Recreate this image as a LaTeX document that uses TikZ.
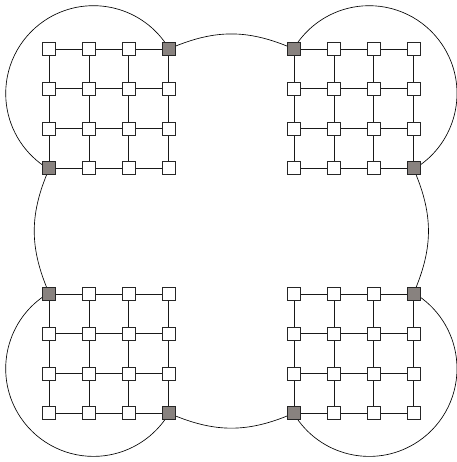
\documentclass[tikz,border=0pt]{standalone}
\usetikzlibrary{backgrounds,calc}
\definecolor{sqgray}{RGB}{136,130,127}
\begin{document}
\begin{tikzpicture}[x=1pt,y=1pt,
  sq/.style={draw=black!85, fill=white, minimum size=13pt, inner sep=0pt, line width=0.7pt},
  link/.style={line width=0.7pt, draw=black!90},
  ring/.style={line width=0.65pt, draw=black},
  c130/.style={fill=sqgray}, c103/.style={fill=sqgray},
  c200/.style={fill=sqgray}, c233/.style={fill=sqgray},
  c300/.style={fill=sqgray}, c333/.style={fill=sqgray},
  c430/.style={fill=sqgray}, c403/.style={fill=sqgray}]
\useasboundingbox (0,0) rectangle (456,462);
% grids
\foreach \k/\ox/\oy in {1/49.3/413, 2/294.3/413, 3/49.3/168, 4/294.3/168}{
  \foreach \i in {0,...,3}{
    \foreach \j in {0,...,3}{
      \node[sq, c\k\i\j/.try] (g\k-\i-\j) at ({\ox+39.7*\i},{\oy-39.7*\j}) {};
    }
  }
}
\coordinate (cTL) at (93.5,368.5);
\coordinate (cTR) at (369.2,368.5);
\coordinate (cBL) at (93.5,93.4);
\coordinate (cBR) at (369.2,93.4);
\begin{scope}[on background layer]
  \foreach \k in {1,...,4}{
    \foreach \i in {0,...,3}{
      \foreach \j [evaluate=\j as \jn using int(\j+1)] in {0,1,2}{
        \draw[link] (g\k-\i-\j) -- (g\k-\i-\jn);
        \draw[link] (g\k-\j-\i) -- (g\k-\jn-\i);
      }
    }
  }
  % corner circles
  \draw[ring] ($(cTL)+(34:87.8)$) arc[start angle=34, end angle=236, radius=87.8];
  \draw[ring] ($(cTR)+(-56:87.8)$) arc[start angle=-56, end angle=146, radius=87.8];
  \draw[ring] ($(cBL)+(124:87.8)$) arc[start angle=124, end angle=326, radius=87.8];
  \draw[ring] ($(cBR)+(214:87.8)$) arc[start angle=214, end angle=416, radius=87.8];
  % middle arcs
  \draw[ring] (g1-3-0) to[bend left=22] (g2-0-0);
  \draw[ring] (g3-0-0) to[bend left=22] (g1-0-3);
  \draw[ring] (g4-0-3) to[bend left=22] (g3-3-3);
  \draw[ring] (g2-3-3) to[bend left=22] (g4-3-0);
\end{scope}
\end{tikzpicture}
\end{document}
